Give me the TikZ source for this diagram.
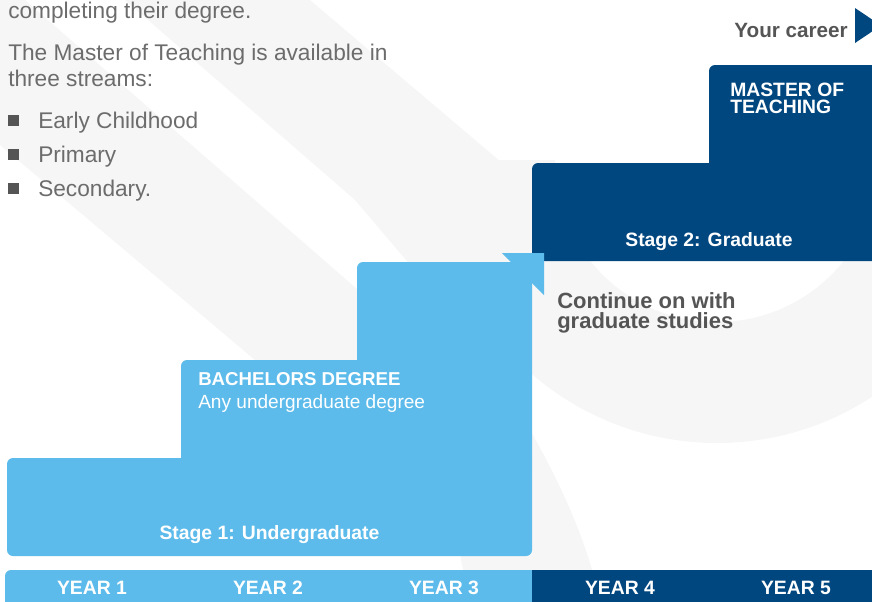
\documentclass[tikz,border=0pt]{standalone}
\usepackage{fontspec}
\setmainfont{Liberation Sans}
\definecolor{skyblue}{RGB}{92,187,235}
\definecolor{deepblue}{RGB}{0,70,127}
\definecolor{softgray}{RGB}{246,246,246}
\definecolor{copygray}{RGB}{108,108,108}
\definecolor{headgray}{RGB}{85,85,85}
\usetikzlibrary{positioning}

\begin{document}
\begin{tikzpicture}[x=0.75pt, y=-0.75pt,
    bodytext/.style={font=\fontsize{17}{20}\selectfont, text=copygray, inner sep=0pt},
    boldlabel/.style={font=\fontsize{14.5}{16}\selectfont\bfseries, text=white, inner sep=0pt},
    plainlabel/.style={font=\fontsize{14.3}{16}\selectfont, text=white, inner sep=0pt},
    graylabel/.style={font=\fontsize{16.5}{18}\selectfont\bfseries, text=headgray, inner sep=0pt},
    bulletsq/.style={fill=headgray, minimum size=8.25pt, inner sep=0pt},
    stepfill/.style={fill=skyblue, rounded corners=4.5pt},
    gradfill/.style={fill=deepblue, rounded corners=4.5pt},
  ]
  \useasboundingbox (0,0) rectangle (872,601);
  \clip (0,0) rectangle (872,601);

  % faint backdrop
  \fill[softgray] (0,0) -- (25,0) -- (519,430) -- (338,430) -- (0,145) -- cycle;
  \fill[softgray] (125,0) -- (310,0) -- (540,195) -- (540,300) -- (525,380) -- (530,430)
    .. controls (550,465) and (585,530) .. (600,601) -- (470,601) -- (461,560)
    -- (440,300) -- (355,200) -- cycle;
  \fill[softgray] (434,160) arc[start angle=180, end angle=360, radius=212.25pt]
    -- (879,160) arc[start angle=0, end angle=-180, radius=121.5pt] -- cycle;

  % graduate block
  \path[gradfill] (532,163) rectangle (885,261);
  \path[gradfill] (709,65) rectangle (885,175);
  \fill[deepblue] (855,8) -- (881,25.5) -- (855,43) -- cycle;

  % undergraduate steps
  \path[stepfill] (7,458) rectangle (532,556);
  \path[stepfill] (181,360) rectangle (532,470);
  \path[stepfill] (357,262) rectangle (532,372);
  \fill[skyblue] (511,262) -- (502,253) -- (544,253) -- (544,295) -- (532,283)
    -- (532,270) -- (511,270) -- cycle;

  % year bar
  \path[stepfill] (5,570) rectangle (540,612);
  \fill[deepblue] (532,570) rectangle (872,612);
  \foreach \n in {1,...,5}
    \node[boldlabel, anchor=base] (year\n) at ({92+176*(\n-1)},594.3) {YEAR \n};

  % intro copy
  \node[bodytext, anchor=base west] (lead) at (8,18.3) {completing their degree.};
  \node[bodytext, anchor=base west] (avail) at (8,60.7) {The Master of Teaching is available in};
  \node[bodytext, anchor=base west] (three) at (8,86) {three streams:};
  \foreach \stream/\yb [count=\i] in {Early Childhood/128, Primary/162.7, Secondary./196} {
    \node[bulletsq] (sq\i) at (13.8,\yb-8) {};
    \node[bodytext, anchor=base west] (stream\i) at (38,\yb) {\stream};
  }

  % labels
  \node[graylabel, font=\fontsize{15.5}{17}\selectfont\bfseries, anchor=base east] (career) at (848,37.3) {Your career};
  \node[boldlabel, anchor=base west] (master) at (730,96.5) {MASTER OF};
  \node[boldlabel, anchor=base west] (teaching) at (730,113.5) {TEACHING};
  \node[boldlabel, anchor=base] (stage2) at (709,246.7) {Stage 2: Graduate};
  \node[graylabel, anchor=base west] (cont1) at (557,308.3) {Continue on with};
  \node[graylabel, anchor=base west] (cont2) at (557,328) {graduate studies};
  \node[boldlabel, font=\fontsize{14}{16}\selectfont\bfseries, anchor=base west] (bach) at (198,385.7) {BACHELORS DEGREE};
  \node[plainlabel, anchor=base west] (anydeg) at (198,408.3) {Any undergraduate degree};
  \node[boldlabel, anchor=base] (stage1) at (269.5,539) {Stage 1: Undergraduate};
\end{tikzpicture}
\end{document}
